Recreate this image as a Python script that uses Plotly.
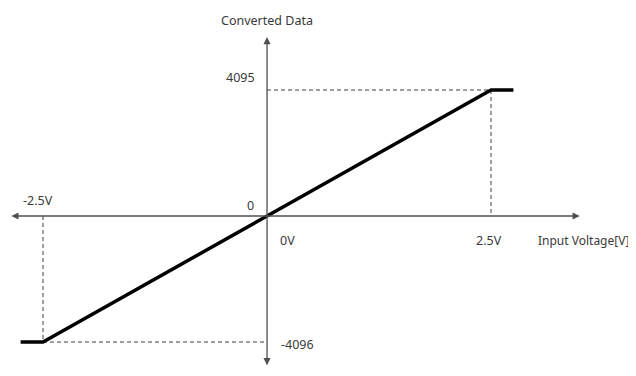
import plotly.graph_objects as go

# transfer curve (input voltage -> converted data)
volts = [-2.75, -2.5, 0, 2.5, 2.75]
codes = [-4096, -4096, 0, 4095, 4095]

max_v = 2.5
max_code = 4095
min_code = -4096

# axis labels
x_title = "Input Voltage[V]"
y_title = "Converted Data"
x_labels = ["-2.5V", "0V", "2.5V"]
y_labels = ["4095", "0", "-4096"]

TXT = dict(family="Noto Sans, Open Sans, sans-serif", size=12.5, color="#3a3a3a")
AX_COLOR = "#505050"
DASH = dict(color="#404040", width=1, dash="4px,3px")

fig = go.Figure()

# dashed guide lines
fig.add_trace(go.Scatter(x=[0, max_v, max_v], y=[max_code, max_code, 0],
                         mode="lines", line=DASH, hoverinfo="skip"))
fig.add_trace(go.Scatter(x=[-max_v, -max_v, 0], y=[0, min_code, min_code],
                         mode="lines", line=DASH, hoverinfo="skip"))

# main curve
fig.add_trace(go.Scatter(x=volts, y=codes, mode="lines",
                         line=dict(color="#000000", width=3.5)))


def arrow(x0, y0, x1, y1):
    fig.add_annotation(x=x1, y=y1, ax=x0, ay=y0, xref="x", yref="y",
                       axref="x", ayref="y", showarrow=True, text="",
                       arrowhead=2, arrowside="end+start", arrowsize=1.1,
                       arrowwidth=1.3, arrowcolor=AX_COLOR, standoff=0,
                       startstandoff=0)


# axes with arrows
arrow(-2.87, 0, 3.49, 0)
arrow(0, -4900, 0, 5817)


def label(txt, x, y, anchor="center", size=12.5):
    fig.add_annotation(x=x, y=y, xref="x", yref="y", text=txt,
                       showarrow=False, font=dict(TXT, size=size),
                       xanchor=anchor)


label(y_title, 0, 6370)
label(x_title, 4.06, -780, "right", 12)
label(x_labels[0], -2.556, 520)
label(x_labels[1], 0.223, -780)
label(x_labels[2], 2.478, -780)
label(y_labels[0], -0.30, 4517)
label(y_labels[1], -0.18, 357)
label(y_labels[2], 0.335, -4192)

# page body has an 8px margin, so the figure is shrunk to fit the window
fig.update_layout(
    width=628, height=360,
    margin=dict(l=0, r=0, t=0, b=0),
    paper_bgcolor="white", plot_bgcolor="white",
    showlegend=False,
    xaxis=dict(range=[-2.891, 4.118], visible=False, fixedrange=True),
    yaxis=dict(range=[-4940, 6760], visible=False, fixedrange=True),
)

fig.write_html("out.html")
